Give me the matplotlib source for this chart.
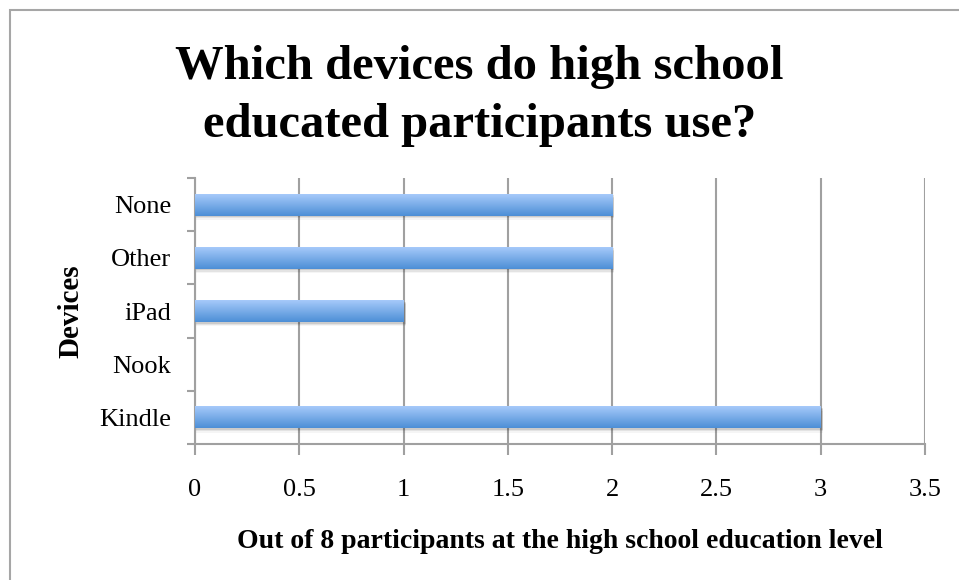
import matplotlib
matplotlib.use('Agg')
import matplotlib.pyplot as plt
from matplotlib.patches import Rectangle
import numpy as np

devices = ['Kindle', 'Nook', 'iPad', 'Other', 'None']
counts = [3, 0, 1, 2, 2]
x_ticks = [0, 0.5, 1, 1.5, 2, 2.5, 3, 3.5]

plt.rcParams['font.family'] = ['Liberation Serif', 'DejaVu Serif']

fig = plt.figure(figsize=(9.59, 5.8), dpi=100)
ax = fig.add_axes([195/959, 1 - 444/580, 730/959, 266/580])

# outer chart frame
fig.patches.append(Rectangle((10/959, -0.05), 1.0, 1 - 10/580 + 0.05, transform=fig.transFigure,
                             fill=False, edgecolor='#a6a6a6', linewidth=1.5))

# vertical gradient for the bars
grad = np.linspace(0, 1, 64).reshape(-1, 1)
top = np.array([0.65, 0.79, 0.98])
bot = np.array([0.30, 0.56, 0.84])
img = top + (bot - top) * grad[:, :, None]
img = img.reshape(64, 1, 3)

h = 0.41
ypos = np.arange(len(devices))
for y, v in zip(ypos, counts):
    if v <= 0:
        continue
    # soft shadow
    for k, a in enumerate([0.10, 0.07, 0.04]):
        ax.add_patch(Rectangle((0, y - h/2 - 0.03 - 0.025*k), v + 0.01, h, facecolor='black',
                               alpha=a, linewidth=0, zorder=2))
    ax.imshow(img, extent=[0, v, y - h/2, y + h/2], origin='upper', aspect='auto',
              interpolation='bilinear', zorder=3)

ax.set_xlim(0, 3.5)
ax.set_ylim(-0.5, len(devices) - 0.5)
ax.set_xticks(x_ticks)
ax.set_xticklabels([('%g' % t) for t in x_ticks], fontsize=19)
ax.set_yticks(ypos)
ax.set_yticklabels(devices, fontsize=19)
ax.set_yticks(np.arange(-0.5, len(devices)), minor=True)
ax.tick_params(axis='y', which='major', length=0, pad=17)
ax.tick_params(axis='y', which='minor', length=6, width=1.5, color='#a0a0a0', direction='out')
ax.tick_params(axis='x', which='major', length=8, width=1.5, color='#a0a0a0', pad=17)

ax.grid(axis='x', color='#a0a0a0', linewidth=1.5, zorder=1)
ax.set_axisbelow(True)
for s in ['top', 'right']:
    ax.spines[s].set_visible(False)
for s in ['left', 'bottom']:
    ax.spines[s].set_color('#a0a0a0')
    ax.spines[s].set_linewidth(1.5)

ax.set_xlabel('Out of 8 participants at the high school education level', fontsize=20,
              fontweight='bold', labelpad=20)
ax.set_ylabel('Devices', fontsize=21, fontweight='bold', labelpad=11)

fig.text(0.5, 1 - 96/580, 'Which devices do high school\neducated participants use?',
         ha='center', va='center', fontsize=35, fontweight='bold', linespacing=1.4)

fig.savefig('out.png', dpi=100)
